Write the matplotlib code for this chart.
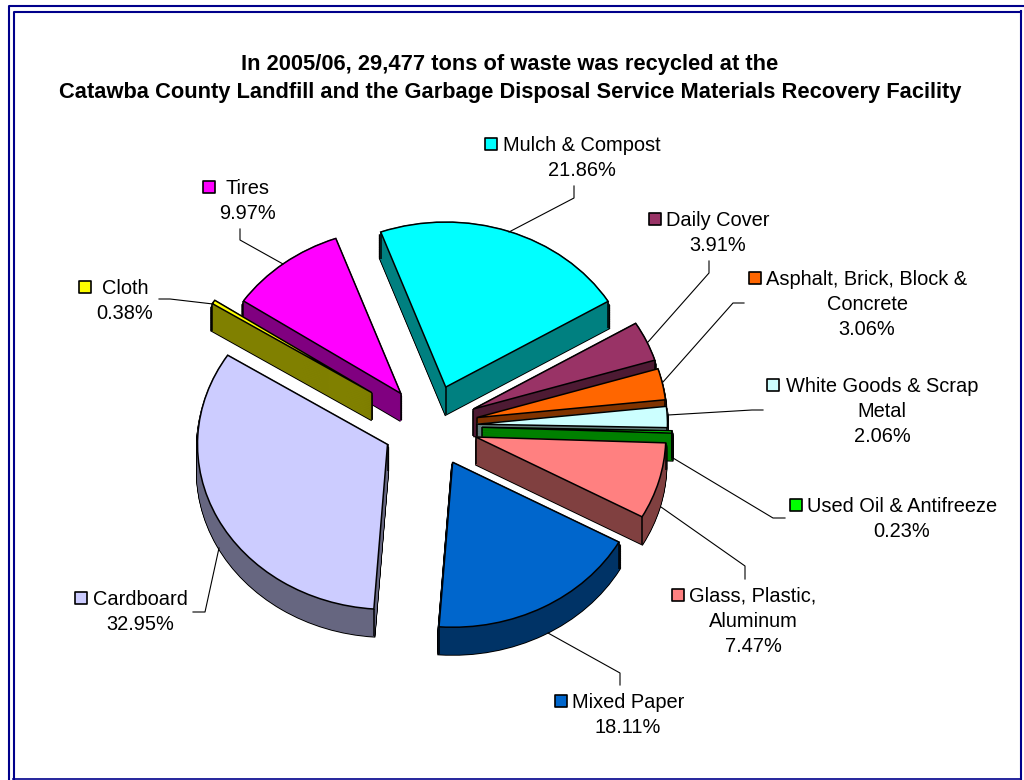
import numpy as np
import matplotlib
matplotlib.use("Agg")
import matplotlib.pyplot as plt
from matplotlib.colors import to_rgb

plt.rcParams['font.family'] = ['Liberation Sans', 'DejaVu Sans']

title_lines = ["In 2005/06, 29,477 tons of waste was recycled at the",
               "Catawba County Landfill and the Garbage Disposal Service Materials Recovery Facility"]
names = ["Mulch & Compost", "Daily Cover", "Asphalt, Brick, Block &\nConcrete",
         "White Goods & Scrap\nMetal", "Used Oil & Antifreeze", "Glass, Plastic,\nAluminum",
         "Mixed Paper", "Cardboard", "Cloth", "Tires"]
values = [21.86, 3.91, 3.06, 2.06, 0.23, 7.47, 18.11, 32.95, 0.38, 9.97]
explode = [0.25, 0.25, 0.25, 0.25, 0.274, 0.25, 0.25, 0.25, 0.365, 0.25]
colors = ["#00FFFF", "#993366", "#FF6600", "#CCFFFF", "#00FF00",
          "#FF8080", "#0066CC", "#CCCCFF", "#FFFF00", "#FF00FF"]

# layout, in pixels of the 1024x780 picture
CX, CY, RX, RY, DEPTH = 430, 426, 190, 165, 27
START = 110
label_x = [582, 718, 867, 882, 902, 753, 628, 140, 125, 248]
label_y = [151, 226, 285, 392, 512, 602, 708, 605, 294, 194]
key_x = [491, 655, 755, 773, 796, 678, 561, 81, 85, 209]
key_y = [144, 219, 278, 385, 505, 595, 701, 598, 287, 187]
leaders = [
    [(509, 232), (574, 198), (574, 186)],
    [(648, 342), (709, 273), (709, 261)],
    [(663, 382), (733, 303), (744, 303)],
    [(668, 415), (752, 410), (763, 410)],
    [(673, 458), (773, 518), (785, 518)],
    [(661, 507), (745, 566), (745, 579)],
    [(548, 633), (620, 673), (620, 685)],
    [(219, 548), (205, 612), (193, 612)],
    [(159, 299), (170, 299), (213, 304)],
    [(240, 229), (240, 240), (283, 264)],
]

fig = plt.figure(figsize=(10.24, 7.8), dpi=100, facecolor='white')
W, H = 1024, 780
XR, YR = 1.5, 2.0
ax = fig.add_axes([(CX - XR * RX) / W, 1 - (CY + YR * RY) / H, 2 * XR * RX / W, 2 * YR * RY / H])

side = [tuple(c * 0.5 for c in to_rgb(c)) for c in colors]
dy = DEPTH / RY
layers = np.linspace(dy, 0, 40)


def pie_layer(d, cols, **wp):
    w, _ = ax.pie(values, explode=explode, colors=cols, center=(0, -d), startangle=START,
                  counterclock=False, wedgeprops=wp)
    return w


# back slices first, front slices over them
top = pie_layer(0, colors, edgecolor='black', linewidth=1.1)
ang = [np.deg2rad((w.theta1 + w.theta2) / 2) for w in top]
rank = {i: r for r, i in enumerate(np.argsort([-np.sin(a) for a in ang]))}
for i, w in enumerate(top):
    w.set_zorder(rank[i] * 10 + 5)
for d in layers:
    if d * RY >= 3:
        for i, w in enumerate(pie_layer(d, ['black'] * len(values), edgecolor='black', linewidth=2.2)):
            w.set_zorder(rank[i] * 10 + 1)
    wedges = ax.pie(values, explode=explode, colors=side, center=(0, -d), startangle=START,
                    counterclock=False, wedgeprops=dict(linewidth=0.8))[0]
    for i, w in enumerate(wedges):
        w.set_edgecolor(side[i])
        w.set_zorder(rank[i] * 10 + 2)


def inside(w, x, y):
    cx, cy = w.center
    r = np.hypot(x - cx, y - cy)
    a = np.rad2deg(np.arctan2(y - cy, x - cx))
    a = (a - w.theta1) % 360
    return r < w.r and a < (w.theta2 - w.theta1)


for i, w in enumerate(top):
    cx, cy = w.center
    corners = [(cx, cy)] + [(cx + np.cos(np.deg2rad(t)), cy + np.sin(np.deg2rad(t))) for t in (w.theta1, w.theta2)]
    for k, (x, y) in enumerate(corners):
        if k == 0:
            hidden = (w.theta1 % 360) < 270 < (w.theta1 % 360) + (w.theta2 - w.theta1)
        else:
            hidden = inside(w, x, y - 0.01)
        if not hidden:
            ax.plot([x, x], [y, y - dy], color='black', lw=1.1, zorder=rank[i] * 10 + 3, solid_capstyle='butt')

ax.set_aspect('auto')
ax.set_xlim(-XR, XR)
ax.set_ylim(-YR, YR)
ax.axis('off')

ov = fig.add_axes([0, 0, 1, 1], zorder=5)
ov.set_xlim(0, W)
ov.set_ylim(H, 0)
ov.axis('off')
ov.patch.set_alpha(0)

# double border
navy = '#00008B'
ov.plot([1026, 8.5, 8.5], [5.5, 5.5, 785], color=navy, lw=1.5)
ov.plot([1021, 13.5, 13.5], [11.5, 11.5, 785], color=navy, lw=1.5)
ov.plot([1021, 1021], [11, 780], color=navy, lw=1.5)
ov.plot([13, 1021], [779, 779], color=navy, lw=1.2)

for y, t in zip([70, 98], title_lines):
    ov.text(510, y, t, ha='center', va='baseline', fontsize=15.75, fontweight='bold', color='black')

for name, v, c, lx, ly, kx, ky, pts in zip(names, values, colors, label_x, label_y, key_x, key_y, leaders):
    lines = name.split('\n') + [f"{v:.2f}%"]
    for j, t in enumerate(lines):
        ov.text(lx, ly + j * 25, t, ha='center', va='baseline', fontsize=14.4, color='black')
    ov.scatter([kx], [ky], marker='s', s=80, facecolor=c, edgecolor='black', linewidth=1.2)
    xs, ys = zip(*pts)
    ov.plot(xs, ys, color='black', lw=0.8)

fig.savefig('out.png', dpi=100)
